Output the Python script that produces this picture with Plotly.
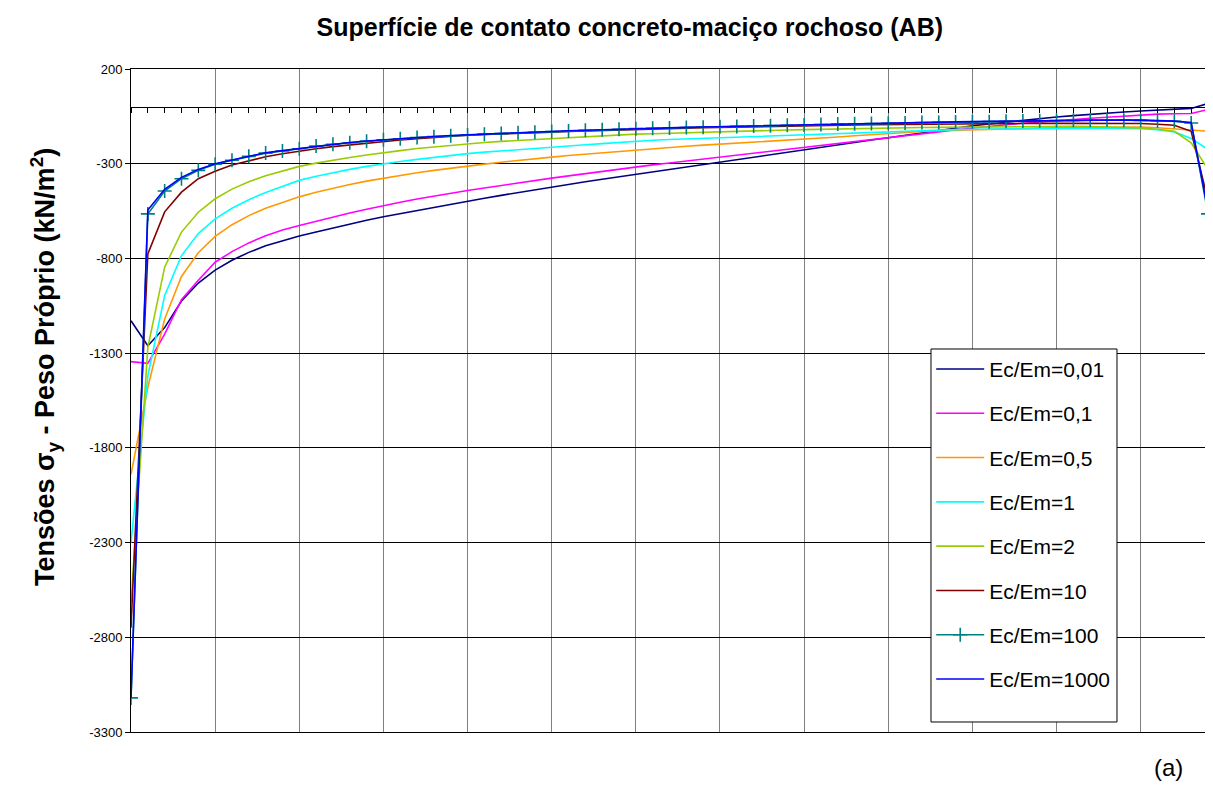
import plotly.graph_objects as go

categories = list(range(65))

s_001 = [-1129, -1261, -1165, -1025, -930, -862, -810, -768, -733, -706,
         -682, -660, -638, -617, -598, -580, -563, -546, -529, -513,
         -497, -482, -467, -452, -437, -423, -409, -395, -382, -369,
         -356, -343, -330, -317, -304, -290, -277, -264, -251, -238,
         -224, -212, -199, -187, -175, -163, -150, -137, -124, -112,
         -100, -90, -80, -70, -61, -53, -46, -39, -33, -27,
         -22, -17, -12, -8, 18]

s_01 = [-1345, -1354, -1200, -1018, -915, -820, -764, -718, -680, -650,
        -626, -603, -581, -560, -540, -520, -503, -486, -470, -455,
        -441, -428, -414, -401, -388, -376, -364, -352, -340, -328,
        -317, -306, -296, -286, -275, -265, -255, -244, -233, -222,
        -212, -202, -192, -183, -173, -164, -153, -143, -132, -121,
        -111, -102, -94, -86, -79, -72, -66, -60, -55, -48,
        -42, -38, -36, -35, -14]

s_05 = [-1940, -1481, -1120, -895, -770, -684, -622, -574, -535, -503,
        -475, -451, -429, -410, -392, -376, -362, -348, -335, -323,
        -312, -302, -292, -282, -273, -265, -257, -250, -243, -234,
        -226, -220, -214, -208, -202, -197, -192, -186, -181, -176,
        -171, -165, -159, -152, -146, -140, -135, -130, -126, -123,
        -120, -118, -116, -114, -112, -110, -109, -107, -106, -105,
        -106, -110, -116, -123, -128]

s_1 = [-2300, -1420, -996, -785, -669, -591, -535, -490, -452, -418,
       -388, -366, -346, -330, -314, -300, -288, -277, -266, -256,
       -247, -239, -232, -225, -218, -212, -206, -200, -194, -187,
       -180, -176, -172, -169, -165, -162, -158, -155, -151, -148,
       -144, -141, -138, -135, -132, -130, -127, -125, -122, -120,
       -118, -117, -116, -115, -114, -114, -113, -113, -113, -114,
       -115, -120, -132, -167, -225]

s_2 = [-2620, -1270, -846, -661, -556, -485, -434, -395, -363, -337,
       -314, -297, -281, -267, -254, -241, -231, -220, -211, -202,
       -194, -188, -182, -177, -172, -167, -162, -158, -153, -148,
       -144, -142, -139, -137, -134, -132, -130, -127, -125, -122,
       -120, -118, -116, -115, -113, -111, -110, -109, -108, -107,
       -106, -105, -104, -103, -103, -102, -103, -104, -106, -108,
       -111, -118, -129, -190, -331]

s_10 = [-2750, -776, -554, -450, -379, -340, -307, -283, -263, -247,
        -233, -221, -210, -201, -190, -182, -175, -168, -161, -155,
        -150, -146, -142, -139, -136, -133, -130, -127, -124, -121,
        -118, -116, -114, -112, -110, -108, -106, -104, -102, -100,
        -98, -97, -96, -95, -94, -93, -92, -91, -90, -89,
        -88, -88, -88, -87, -87, -87, -87, -87, -87, -88,
        -88, -92, -97, -129, -494]

s_100 = [-3120, -565, -444, -379, -335, -303, -282, -261, -244, -233,
         -221, -207, -197, -189, -181, -174, -168, -162, -157, -152,
         -148, -144, -141, -137, -134, -130, -127, -124, -121, -118,
         -115, -113, -111, -109, -107, -105, -103, -101, -99, -97,
         -95, -93, -91, -89, -88, -86, -85, -83, -82, -80,
         -79, -78, -76, -75, -73, -72, -71, -70, -69, -70,
         -71, -73, -76, -85, -565]

s_1000 = [-3120, -545, -435, -372, -330, -300, -280, -259, -242, -231,
          -220, -206, -196, -188, -180, -173, -167, -161, -156, -151,
          -147, -143, -140, -136, -133, -129, -126, -123, -120, -117,
          -114, -112, -110, -108, -106, -104, -102, -100, -98, -96,
          -94, -92, -90, -88, -87, -85, -84, -82, -81, -79,
          -78, -77, -75, -74, -72, -71, -70, -69, -68, -69,
          -70, -72, -75, -82, -548]

y_ticks = [200, -300, -800, -1300, -1800, -2300, -2800, -3300]

series = [
    ("Ec/Em=0,01", s_001, "#000080", None),
    ("Ec/Em=0,1", s_01, "#FF00FF", None),
    ("Ec/Em=0,5", s_05, "#FF9900", None),
    ("Ec/Em=1", s_1, "#00FFFF", None),
    ("Ec/Em=2", s_2, "#99CC00", None),
    ("Ec/Em=10", s_10, "#800000", None),
    ("Ec/Em=100", s_100, "#008080", "cross-thin"),
    ("Ec/Em=1000", s_1000, "#0000FF", None),
]

FONT = "Arial, 'Liberation Sans', sans-serif"

fig = go.Figure()
for i, (name, vals, color, sym) in enumerate(series):
    if sym:
        fig.add_trace(go.Scatter(
            x=categories, y=vals, name=name, mode="lines+markers",
            line=dict(color=color, width=1.6),
            marker=dict(symbol=sym, size=10, color=color,
                        line=dict(color=color, width=1.6)),
            legendgroup=f"g{i}"))
    else:
        fig.add_trace(go.Scatter(
            x=categories, y=vals, name=name, mode="lines",
            line=dict(color=color, width=1.6), legendgroup=f"g{i}"))

ymin, ymax = y_ticks[-1], y_ticks[0]
zero_pos = (0 - ymin) / (ymax - ymin)

# page body has an 8px margin, so the figure is sized to fit inside the window
fig.update_layout(
    width=1205, height=775,
    margin=dict(l=123, r=5, t=61, b=51),
    paper_bgcolor="white", plot_bgcolor="white",
    font=dict(family=FONT, color="black", size=13),
    title=dict(text="<b>Superfície de contato concreto-maciço rochoso (AB)</b>",
               x=0.516, xanchor="center", y=0.975, yanchor="middle",
               font=dict(size=25, family=FONT)),
    xaxis=dict(range=[0, 64], dtick=5, tick0=0, showgrid=True,
               gridcolor="#808080", gridwidth=1, showticklabels=False,
               ticks="", showline=True, linecolor="black", linewidth=1,
               mirror=True, zeroline=False),
    xaxis2=dict(range=[0, 64], overlaying="x", anchor="free",
                position=zero_pos, side="bottom", dtick=1, tick0=0,
                ticks="outside", ticklen=5, tickcolor="black",
                showticklabels=False, showgrid=False, showline=True,
                linecolor="black", linewidth=1, zeroline=False),
    yaxis=dict(range=[ymin, ymax], tickvals=y_ticks,
               ticktext=[str(v) for v in y_ticks], showgrid=True,
               gridcolor="black", gridwidth=1, ticks="outside", ticklen=5,
               tickcolor="black", showline=True, linecolor="black",
               linewidth=1, mirror=True, zeroline=False,
               tickfont=dict(size=13, family=FONT)),
    legend=dict(x=0.743, y=0.578, xanchor="left", yanchor="top",
                bgcolor="rgba(0,0,0,0)", borderwidth=0,
                font=dict(size=21, family=FONT), tracegroupgap=14,
                itemwidth=48),
    showlegend=True,
)

# legend frame (drawn above the plot lines, below the legend entries)
fig.add_shape(type="rect", xref="paper", yref="paper",
              x0=0.7428, x1=0.9155, y0=0.0151, y1=0.5777,
              fillcolor="white", line=dict(color="black", width=1),
              layer="above")

# invisible trace to activate the zero-crossing category axis
fig.add_trace(go.Scatter(x=categories, y=[None] * len(categories),
                         xaxis="x2", showlegend=False, hoverinfo="skip"))

fig.add_annotation(text="<b>Tensões σ<sub>y</sub> - Peso Próprio (kN/m<sup>2</sup>)</b>",
                   xref="paper", yref="paper", x=-0.0799, y=0.5505,
                   xanchor="center", yanchor="middle", textangle=-90,
                   showarrow=False, font=dict(size=27, family=FONT))

fig.add_annotation(text="(a)", xref="paper", yref="paper", x=0.9786, y=-0.053,
                   xanchor="right", yanchor="middle", showarrow=False,
                   font=dict(size=24, family=FONT))

fig.write_html("out.html")
